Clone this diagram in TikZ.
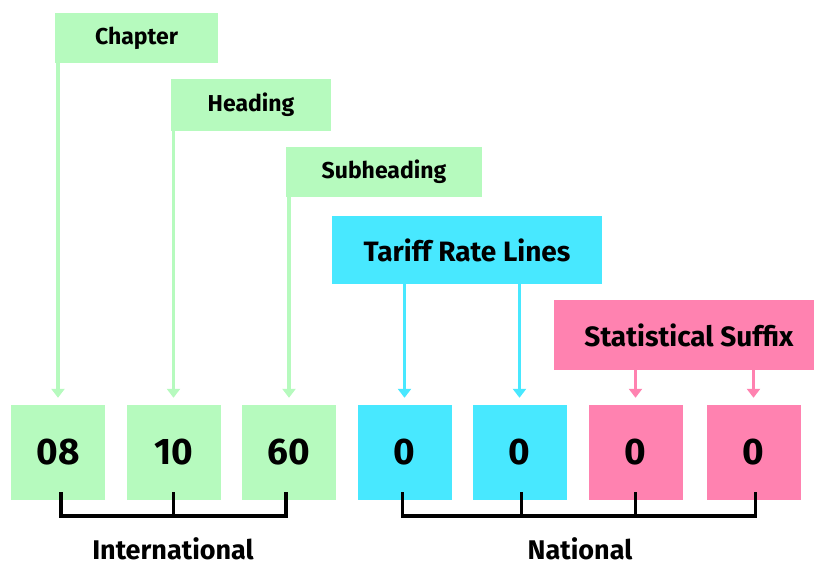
\documentclass[tikz,border=0pt]{standalone}
\usepackage{fontspec}
\setmainfont{Fira Sans}
\usetikzlibrary{arrows.meta}
\definecolor{lgreen}{RGB}{182,250,190}
\definecolor{lcyan}{RGB}{72,232,255}
\definecolor{lpink}{RGB}{255,130,176}
\tikzset{
  lab/.style={inner sep=0pt, font=\bfseries\fontsize{23}{26}\selectfont},
  biglab/.style={inner sep=0pt, font=\bfseries\fontsize{28}{31}\selectfont},
  digit/.style={inner sep=0pt, minimum width=94pt, minimum height=95pt, font=\bfseries\fontsize{37}{42}\selectfont},
  pointer/.style={line width=3.2pt, -{Triangle[width=13pt,length=9pt]}},
  brace/.style={line width=3.5pt, black},
  grouplab/.style={inner sep=0pt, font=\bfseries\fontsize{27}{30}\selectfont}
}
\begin{document}
\begin{tikzpicture}[x=1pt,y=-1pt]
\useasboundingbox (0,0) rectangle (814,568);
% label boxes
\node[lab, fill=lgreen, minimum width=163pt, minimum height=50pt] (chapter) at (136.5,38) {Chapter};
\node[lab, fill=lgreen, minimum width=160pt, minimum height=52pt] (heading) at (251,105) {Heading};
\node[lab, fill=lgreen, minimum width=196pt, minimum height=50pt] (subheading) at (384,172) {Subheading};
\node[biglab, fill=lcyan, minimum width=270pt, minimum height=68pt] (tariff) at (467,250) {Tariff Rate Lines};
\node[biglab, fill=lpink, minimum width=261pt, minimum height=70pt] (suffix) at (684,335) {\hspace*{10pt}Statistical Suffix};
% digit boxes
\node[digit, fill=lgreen] (d1) at (58,452.5) {08};
\node[digit, fill=lgreen] (d2) at (173.5,452.5) {10};
\node[digit, fill=lgreen] (d3) at (289,452.5) {60};
\node[digit, fill=lcyan] (d4) at (404.5,452.5) {0};
\node[digit, fill=lcyan] (d5) at (519.5,452.5) {0};
\node[digit, fill=lpink] (d6) at (635.5,452.5) {0};
\node[digit, fill=lpink] (d7) at (753.5,452.5) {0};
% pointers
\draw[pointer, lgreen] (chapter.south west -| d1.north) -- ([yshift=7pt]d1.north);
\draw[pointer, lgreen] (heading.south west -| d2.north) -- ([yshift=7pt]d2.north);
\draw[pointer, lgreen] (subheading.south west -| d3.north) -- ([yshift=7pt]d3.north);
\draw[pointer, lcyan] (tariff.south -| d4.north) -- ([yshift=7pt]d4.north);
\draw[pointer, lcyan] (tariff.south -| d5.north) -- ([yshift=7pt]d5.north);
\draw[pointer, lpink] (suffix.south -| d6.north) -- ([yshift=7pt]d6.north);
\draw[pointer, lpink] (suffix.south -| d7.north) -- ([yshift=7pt]d7.north);
% brackets
\coordinate (b1) at ([xshift=3pt,yshift=8pt]d1.south);
\coordinate (b3) at ([xshift=-3pt,yshift=8pt]d3.south);
\draw[brace] (b1) -- ++(0,24) -| (b3);
\draw[brace] ([yshift=8pt]d2.south) -- ++(0,24);
\coordinate (b4) at ([xshift=-2pt,yshift=8pt]d4.south);
\coordinate (b7) at ([xshift=2pt,yshift=8pt]d7.south);
\draw[brace] (b4) -- ++(0,24) -| (b7);
\draw[brace] ([xshift=2pt,yshift=8pt]d5.south) -- ++(0,24);
\draw[brace] ([yshift=8pt]d6.south) -- ++(0,24);
% group labels
\node[grouplab] (intl) at (173,549) {International};
\node[grouplab] (natl) at (580,549) {National};
\end{tikzpicture}
\end{document}
